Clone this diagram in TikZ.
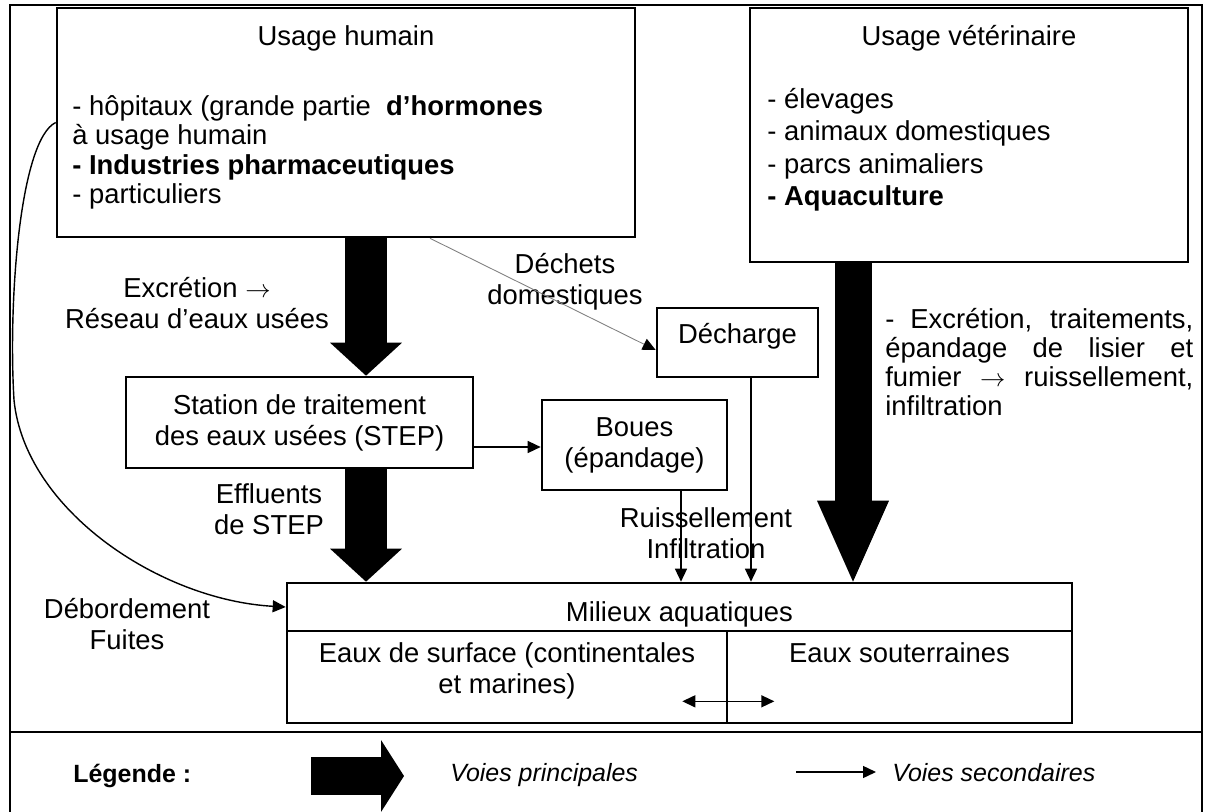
\documentclass[tikz,border=0pt]{standalone}
\usepackage{fontspec}
\setmainfont{Liberation Sans}
\usetikzlibrary{arrows.meta}

\newcommand{\mainfont}{\fontsize{15.6}{16.8}\selectfont}
\newcommand{\loosefont}{\fontsize{15.6}{17.6}\selectfont}

\begin{document}
\begin{tikzpicture}[
    x=0.02cm, y=-0.02cm,
    box/.style 2 args={draw, line width=1.5pt, minimum width=#1*0.02cm, minimum height=#2*0.02cm, inner sep=0pt, font=\loosefont, align=center},
    txt/.style={inner sep=0pt, font=\mainfont},
    lbl/.style={inner sep=0pt, font=\loosefont, align=center, anchor=north},
    legtxt/.style={inner sep=0pt, font=\fontsize{14.2}{16}\selectfont\itshape, anchor=base west},
    flow/.style={line width=0.8pt, -{Triangle[length=0.26cm, width=0.24cm]}},
    waste/.style={draw=gray, line width=0.5pt, -{Triangle[length=0.26cm, width=0.24cm, color=black]}},
    bigarrow/.style={line width=0.84cm, -{Triangle[length=0.66cm, width=1.44cm, line width=0pt]}},
    vetarrow/.style={line width=0.74cm, -{Triangle[length=1.62cm, width=1.44cm, line width=0pt]}},
    legarrow/.style={line width=0.76cm, -{Triangle[length=0.46cm, width=1.44cm, line width=0pt]}}
  ]
    \useasboundingbox (0,0) rectangle (1205,812);
    % frame
    \draw[line width=1.5pt] (10,812) -- (10,5) -- (1202,5) -- (1202,812);
    \draw[line width=1.5pt] (10,732) -- (1202,732);

    % sources
    \node[box={578}{229}] (uh) at (346,122.5) {};
    \node[txt, anchor=base] (uhtitle) at (346,45) {Usage humain};
    \node[txt, anchor=north west, align=left] (uhlist) at (72,95) {- hôpitaux (grande partie\ \ \textbf{d’hormones}\\à usage humain\\\textbf{- Industries pharmaceutiques}\\- particuliers};
    \node[box={438}{254}] (vet) at (969,135) {};
    \node[txt, anchor=base] (vettitle) at (969,45) {Usage vétérinaire};
    \node[txt, anchor=north west, align=left, font=\fontsize{15.6}{18.4}\selectfont] (vetlist) at (767,88) {- élevages\\- animaux domestiques\\- parcs animaliers\\\textbf{- Aquaculture}};

    % intermediate boxes
    \node[box={347}{91}] (step) at (299.5,422.5) {Station de traitement\\des eaux usées (STEP)};
    \node[box={185}{90}] (boues) at (634.5,445) {Boues\\(épandage)};
    \node[box={161}{69}] (dech) at (737.5,342.5) {};
    \node[txt, anchor=base] (dechtxt) at (737.5,343) {Décharge};

    % receiving waters
    \node[box={785}{48}] (mil) at (679.5,607) {};
    \node[txt, anchor=base] (miltxt) at (679.5,621) {Milieux aquatiques};
    \node[box={440}{92}] (surf) at (507,677) {};
    \node[box={345}{92}] (sout) at (899.5,677) {};
    \node[lbl] (surftxt) at (507,642) {Eaux de surface (continentales\\et marines)};
    \node[txt, anchor=base] (souttxt) at (899.5,662) {Eaux souterraines};

    % labels
    \node[lbl] (excr) at (197,277) {Excrétion $\rightarrow$\\Réseau d’eaux usées};
    \node[lbl] (effl) at (269,483) {Effluents\\de STEP};
    \node[lbl] (dechets) at (565,253) {Déchets\\domestiques};
    \node[lbl] (ruiss) at (706,507) {Ruissellement\\Infiltration};
    \node[lbl] (debord) at (127,598) {Débordement\\Fuites};
    \node[txt, anchor=north west, text width=6.16cm, align=justify, font=\fontsize{15.6}{16.5}\selectfont] (vetlab) at (885,308) {- Excrétion, traitements,\linebreak épandage de lisier et\linebreak fumier $\rightarrow$ ruissellement, infiltration};

    % connectors
    \coordinate (hx) at (366,0);
    \coordinate (vx) at (853,0);
    \coordinate (bx) at (681,0);
    \coordinate (dx) at (751,0);
    \coordinate (wx) at (430,0);
    \coordinate (sy) at (0,447);
    \coordinate (bend) at (14,400);
    \draw[bigarrow] (uh.south -| hx) -- (step.north -| hx);
    \draw[bigarrow] (step.south -| hx) -- (mil.north -| hx);
    \draw[vetarrow] (vet.south -| vx) -- (mil.north -| vx);
    \draw[flow] (step.east |- sy) -- (boues.west |- sy);
    \draw[flow] (boues.south -| bx) -- (mil.north -| bx);
    \draw[flow] (dech.south -| dx) -- (mil.north -| dx);
    \draw[waste] (uh.south -| wx) -- ([yshift=-0.15cm]dech.west);
    \draw[flow] (uh.west) .. controls (20,140) and (8,300) .. (bend) .. controls (25,510) and (160,600) .. (mil.west);
    \draw[{Triangle[length=0.26cm, width=0.24cm]}-{Triangle[length=0.26cm, width=0.24cm]}, line width=0.8pt] ([shift={(-46,-23)}]surf.south east) -- ([shift={(46,-23)}]surf.south east);

    % legend
    \node[txt, anchor=base west, font=\fontsize{14.2}{16}\selectfont\bfseries] (leg) at (73,782) {Légende :};
    \coordinate (lgA) at (311,776);
    \coordinate (lgB) at (404,776);
    \draw[legarrow] (lgA) -- (lgB);
    \node[legtxt] (vprin) at (450,781) {Voies principales};
    \coordinate (lsA) at (796,772);
    \coordinate (lsB) at (876,772);
    \draw[flow] (lsA) -- (lsB);
    \node[legtxt] (vsec) at (892,781) {Voies secondaires};
\end{tikzpicture}
\end{document}
